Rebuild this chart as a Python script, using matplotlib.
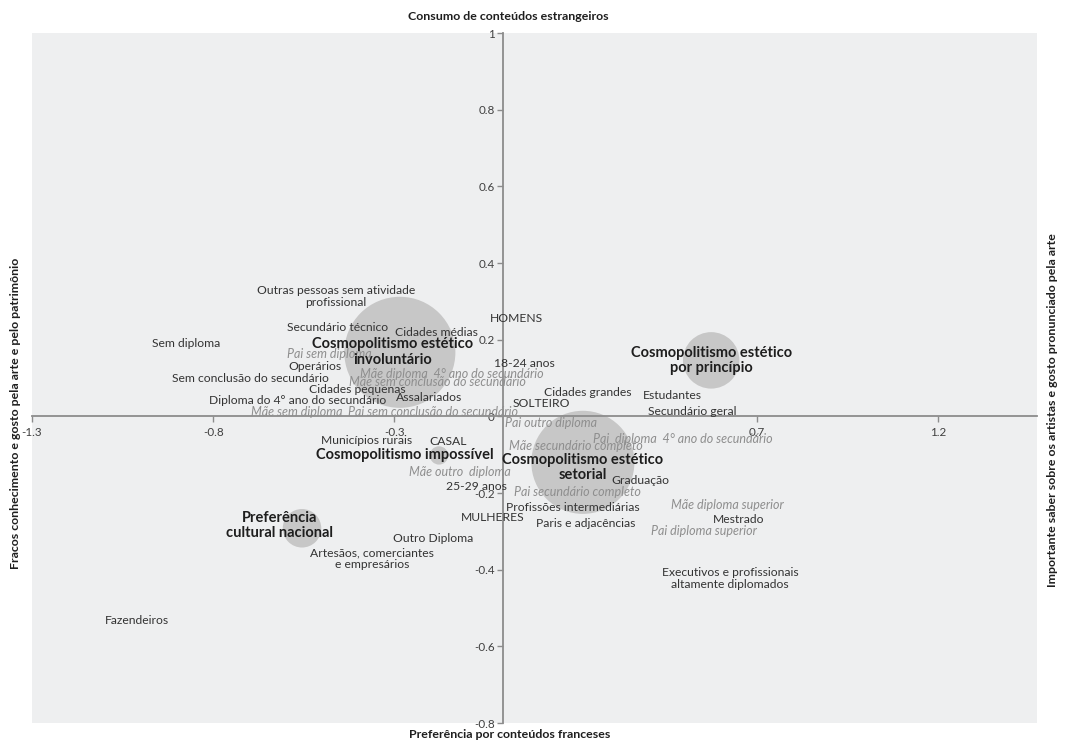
import matplotlib
matplotlib.use("Agg")
import matplotlib.pyplot as plt

plt.rcParams['font.family'] = ['Lato', 'DejaVu Sans']

# ---- data ----
cluster_names = ["Cosmopolitismo estético\ninvoluntário",
                 "Cosmopolitismo estético\npor princípio",
                 "Cosmopolitismo estético\nsetorial",
                 "Cosmopolitismo impossível",
                 "Preferência\ncultural nacional"]
cluster_x = [-0.285, 0.574, 0.220, -0.177, -0.555]
cluster_y = [0.167, 0.146, -0.120, -0.102, -0.292]
cluster_share = [44.1, 11.4, 38.0, 1.2, 5.3]

cat_labels = ["Outras pessoas sem atividade\nprofissional", "Secundário técnico", "Cidades médias",
              "Sem diploma", "Operários", "Sem conclusão do secundário", "Cidades pequenas",
              "Diploma do 4° ano do secundário", "Assalariados", "Municípios rurais", "CASAL",
              "HOMENS", "18-24 anos", "Cidades grandes", "Estudantes", "SOLTEIRO",
              "Secundário geral", "25-29 anos", "MULHERES", "Outro Diploma",
              "Artesãos, comerciantes\ne empresários", "Graduação", "Profissões intermediárias",
              "Paris e adjacências", "Mestrado", "Executivos e profissionais\naltamente diplomados",
              "Fazendeiros"]
cat_x = [-0.461, -0.458, -0.185, -0.875, -0.519, -0.698, -0.403, -0.566, -0.205, -0.376, -0.152,
         0.036, 0.058, 0.234, 0.466, 0.105, 0.521, -0.075, -0.028, -0.193, -0.362, 0.378, 0.193,
         0.229, 0.651, 0.626, -1.010]
cat_y = [0.313, 0.232, 0.219, 0.191, 0.131, 0.099, 0.070, 0.042, 0.050, -0.063, -0.065,
         0.256, 0.138, 0.063, 0.055, 0.034, 0.013, -0.183, -0.264, -0.319, -0.371, -0.167, -0.238,
         -0.279, -0.269, -0.423, -0.533]

par_labels = ["Pai sem diploma", "Mãe diploma  4° ano do secundário", "Mãe sem conclusão do secundário",
              "Mãe sem diploma", "Pai sem conclusão do secundário", "Pai outro diploma",
              "Pai  diploma  4° ano do secundário", "Mãe secundário completo", "Mãe outro  diploma",
              "Pai secundário completo", "Mãe diploma superior", "Pai diploma superior"]
par_x = [-0.480, -0.141, -0.180, -0.569, -0.193, 0.132, 0.496, 0.201, -0.119, 0.204, 0.618, 0.554]
par_y = [0.162, 0.110, 0.089, 0.010, 0.010, -0.018, -0.060, -0.078, -0.146, -0.198, -0.232, -0.298]

x_ticks = [-1.3, -0.8, -0.3, 0.2, 0.7, 1.2]
y_ticks = [-0.8, -0.6, -0.4, -0.2, 0, 0.2, 0.4, 0.6, 0.8, 1]

title_top = "Consumo de conteúdos estrangeiros"
title_bottom = "Preferência por conteúdos franceses"
title_left = "Fracos conhecimento e gosto pela arte e pelo patrimônio"
title_right = "Importante saber sobre os artistas e gosto pronunciado pela arte"

# ---- figure ----
fig = plt.figure(figsize=(10.65, 7.43), dpi=100)
ax = fig.add_axes([32/1065, 1-723/743, (1037-32)/1065, (723-33)/743])
ax.set_facecolor('#eeeff0')
ax.set_xlim(-1.3, 1.473)
ax.set_ylim(-0.8, 1.0)

for s in ['top', 'right']:
    ax.spines[s].set_visible(False)
ax.spines['left'].set_position(('data', 0))
ax.spines['bottom'].set_position(('data', 0))
for s in ['left', 'bottom']:
    ax.spines[s].set_color('#8c8c8c')
    ax.spines[s].set_linewidth(1.3)
ax.set_xticks(x_ticks)
ax.set_yticks(y_ticks)
ax.set_xticklabels([f"{v:g}" for v in x_ticks])
ax.set_yticklabels([f"{v:g}" for v in y_ticks])
ax.tick_params(axis='both', direction='out', length=4, width=1, color='#8c8c8c',
               labelsize=8.4, labelcolor='#404040')
ax.tick_params(axis='x', pad=4)
ax.tick_params(axis='y', pad=2)

# bubbles
ax.scatter(cluster_x, cluster_y, s=[v * 145 for v in cluster_share],
           color='#c7c7c7', edgecolors='none', zorder=2)

offsets = [(-5, 0), (0, 0), (0, -3.6), (-24.5, 0), (-16, 2)]
for name, x, y, off in zip(cluster_names, cluster_x, cluster_y, offsets):
    ax.annotate(name, (x, y), xytext=off, textcoords='offset points', ha='center', va='center',
                fontsize=10.5, fontweight='bold', color='#1e1e1e', linespacing=1.15, zorder=5)

for t, x, y in zip(cat_labels, cat_x, cat_y):
    ax.text(x, y, t, ha='center', va='center', fontsize=8.7, color='#333333',
            linespacing=1.05, zorder=4)

for t, x, y in zip(par_labels, par_x, par_y):
    ax.text(x, y, t, ha='center', va='center', fontsize=9.0, color='#8e8e8e',
            style='italic', zorder=3)

fig.text(508/1065, 1-17/743, title_top, ha='center', va='center', fontsize=8.9,
         fontweight='bold', color='#1e1e1e')
fig.text(510/1065, 1-735/743, title_bottom, ha='center', va='center', fontsize=8.9,
         fontweight='bold', color='#1e1e1e')
fig.text(16/1065, 1-413/743, title_left, ha='center', va='center', rotation=90, fontsize=8.9,
         fontweight='bold', color='#1e1e1e')
fig.text(1052/1065, 1-410/743, title_right, ha='center', va='center', rotation=90, fontsize=8.9,
         fontweight='bold', color='#1e1e1e')

fig.savefig('out.png', dpi=100, facecolor='white')
